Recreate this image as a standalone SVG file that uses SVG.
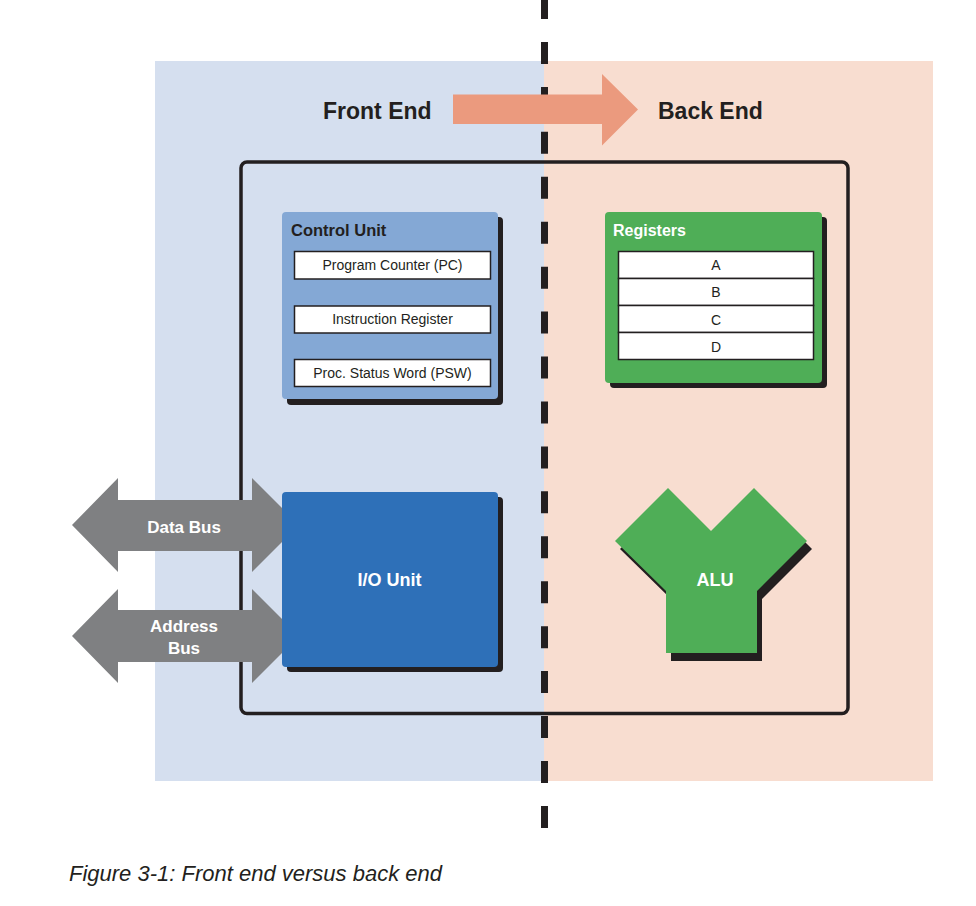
<svg xmlns="http://www.w3.org/2000/svg" width="976" height="906" viewBox="0 0 976 906">
<style>
.t{font-family:"Liberation Sans",Arial,sans-serif}
.b{font-weight:bold}
.w{fill:#ffffff}
.k{fill:#231f20}
.shadow{fill:#231f20}
.cell{fill:#ffffff;stroke:#231f20;stroke-width:1.5}
.cellt{font-family:"Liberation Sans",Arial,sans-serif;font-size:14px;fill:#231f20;text-anchor:middle}
.bus{fill:#7f8082}
</style>
<rect width="976" height="906" fill="#ffffff"/>
<g id="front-bg"><rect x="155" y="61" width="389" height="720" fill="#d5dfef"/></g>
<g id="back-bg"><rect x="544" y="61" width="389" height="720" fill="#f8ddd0"/></g>
<g id="cpu-box"><rect x="241" y="162" width="607" height="551.5" rx="6" fill="none" stroke="#231f20" stroke-width="3.5"/></g>
<g id="divider"><line x1="544.5" y1="-3" x2="544.5" y2="829" stroke="#231f20" stroke-width="7" stroke-dasharray="22 22.94"/></g>
<g id="connectors">
<polygon class="bus" points="72,525 118,478 118,500 252,500 252,478 299,525 252,572 252,551 118,551 118,572"/>
<polygon class="bus" points="72,636 118,589 118,610 252,610 252,589 299,636 252,683 252,662 118,662 118,683"/>
<polygon fill="#eb9a7e" points="453,94.5 602,94.5 602,74 638,109.5 602,145.5 602,124 453,124"/>
</g>
<g id="labels-top">
<text class="t b k" x="323" y="119" font-size="23">Front End</text>
<text class="t b k" x="658" y="119" font-size="23">Back End</text>
</g>
<g id="control-unit">
<rect class="shadow" x="287" y="217" width="216" height="188" rx="4"/>
<rect x="282" y="212" width="216" height="187" rx="4" fill="#84a8d5"/>
<text class="t b k" x="291" y="236" font-size="16.5">Control Unit</text>
<rect class="cell" x="294.5" y="251.5" width="196" height="27.5"/>
<text class="cellt" x="392.5" y="270">Program Counter (PC)</text>
<rect class="cell" x="294.5" y="306" width="196" height="27"/>
<text class="cellt" x="392.5" y="324">Instruction Register</text>
<rect class="cell" x="294.5" y="359.5" width="196" height="27"/>
<text class="cellt" x="392.5" y="378">Proc. Status Word (PSW)</text>
</g>
<g id="registers">
<rect class="shadow" x="610" y="217" width="217" height="171" rx="4"/>
<rect x="605" y="212" width="217" height="171" rx="4" fill="#4fae57"/>
<text class="t b w" x="613" y="236" font-size="16">Registers</text>
<rect class="cell" x="618.5" y="251.5" width="195" height="27"/>
<text class="cellt" x="716" y="270">A</text>
<rect class="cell" x="618.5" y="278.5" width="195" height="27"/>
<text class="cellt" x="716" y="297">B</text>
<rect class="cell" x="618.5" y="305.5" width="195" height="27"/>
<text class="cellt" x="716" y="325">C</text>
<rect class="cell" x="618.5" y="332.5" width="195" height="27"/>
<text class="cellt" x="716" y="352">D</text>
</g>
<g id="io-unit">
<rect class="shadow" x="287" y="497" width="216" height="175" rx="4"/>
<rect x="282" y="492" width="216" height="175" rx="4" fill="#2e70b8"/>
<text class="t b w" x="389.5" y="586" font-size="18" text-anchor="middle">I/O Unit</text>
</g>
<g id="data-bus-label"><text class="t b w" x="184" y="533" font-size="17" text-anchor="middle">Data Bus</text></g>
<g id="address-bus-label">
<text class="t b w" x="184" y="632" font-size="17" text-anchor="middle">Address</text>
<text class="t b w" x="184" y="654" font-size="17" text-anchor="middle">Bus</text>
</g>
<g id="alu">
<polygon class="shadow" points="620,549 673,496 716,539 759,496 812,549 762,599 762,661 671,661 671,599"/>
<polygon fill="#4fae57" points="615,541 668,488 711,531 754,488 807,541 757,591 757,653 666,653 666,591"/>
<text class="t b w" x="715" y="586" font-size="18" text-anchor="middle">ALU</text>
</g>
<g id="caption"><text class="t" x="69" y="881" font-size="22" font-style="italic" fill="#231f20">Figure 3-1: Front end versus back end</text></g>
</svg>
